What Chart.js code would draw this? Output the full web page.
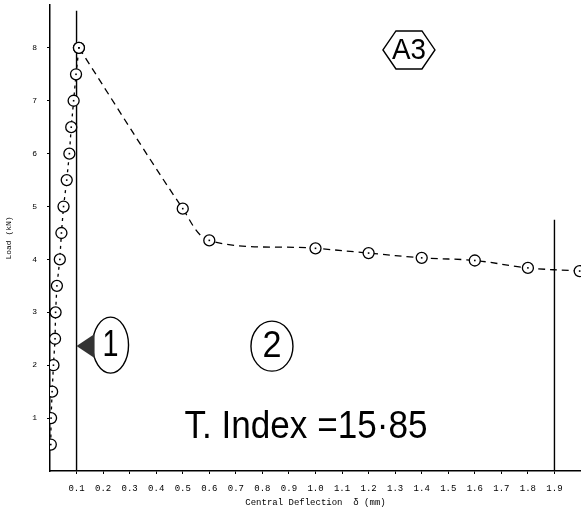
<!DOCTYPE html>
<html>
<head>
<meta charset="utf-8">
<script src="https://cdn.jsdelivr.net/npm/chart.js@4.4.1/dist/chart.umd.min.js"></script>
<style>
  body { margin: 0; background: #fff; }
  #chart { display: block; }
</style>
</head>
<body>
<canvas id="chart" width="581" height="513"></canvas>
<script>
// Loading branch (deflection mm, load kN)
const loadDefl = [0.003, 0.004, 0.008, 0.013, 0.019, 0.021, 0.026, 0.037, 0.043, 0.051, 0.063, 0.073, 0.080, 0.089, 0.098, 0.109];
const loadVals = [0.5, 1.0, 1.5, 2.0, 2.5, 3.0, 3.5, 4.0, 4.5, 5.0, 5.5, 6.0, 6.5, 7.0, 7.5, 8.0];

// Post-peak branch
const postDefl = [0.109, 0.50, 0.60, 1.00, 1.20, 1.40, 1.60, 1.80, 1.995];
const postVals = [8.0, 4.96, 4.36, 4.21, 4.12, 4.03, 3.98, 3.84, 3.78];

// Vertical marker lines
const markerX = [0.1, 1.9];
const markerTop = [8.7, 4.75];

const xTicks = [0.1, 0.2, 0.3, 0.4, 0.5, 0.6, 0.7, 0.8, 0.9, 1.0, 1.1, 1.2, 1.3, 1.4, 1.5, 1.6, 1.7, 1.8, 1.9];
const yTicks = [1, 2, 3, 4, 5, 6, 7, 8];

const toPoints = (xs, ys) => xs.map((x, i) => ({ x: x, y: ys[i] }));

// Annotations placed in data coordinates
const notes = {
    hex: { x: 1.352, y: 7.96, text: 'A3' },
    one: { x: 0.228, y: 2.38, text: '1' },
    two: { x: 0.836, y: 2.36, text: '2' },
    index: { x: 0.964, y: 0.83, text: 'T. Index =15\u00b785' }
};

const markerDot = {
    id: 'markerDot',
    afterDatasetsDraw(chart) {
        const ctx = chart.ctx;
        ctx.save();
        ctx.fillStyle = '#000';
        chart.data.datasets.forEach((ds, i) => {
            if (!ds.centerDot) return;
            chart.getDatasetMeta(i).data.forEach(pt => {
                ctx.fillRect(pt.x - 0.8, pt.y - 0.8, 1.6, 1.6);
            });
        });
        ctx.restore();
    }
};

const sketchNotes = {
    id: 'sketchNotes',
    afterDraw(chart) {
        const ctx = chart.ctx;
        const xs = chart.scales.x;
        const ys = chart.scales.y;
        const px = n => [xs.getPixelForValue(n.x), ys.getPixelForValue(n.y)];
        const face = '"Liberation Sans", Arial, sans-serif';
        ctx.save();
        ctx.strokeStyle = '#000';
        ctx.fillStyle = '#000';
        ctx.lineWidth = 1.4;
        ctx.textAlign = 'center';
        ctx.textBaseline = 'middle';

        // hexagon A3
        let [cx, cy] = px(notes.hex);
        ctx.beginPath();
        ctx.moveTo(cx - 26, cy);
        ctx.lineTo(cx - 13, cy - 19);
        ctx.lineTo(cx + 13, cy - 19);
        ctx.lineTo(cx + 26, cy);
        ctx.lineTo(cx + 13, cy + 19);
        ctx.lineTo(cx - 13, cy + 19);
        ctx.closePath();
        ctx.stroke();
        ctx.font = '30px ' + face;
        ctx.fillText(notes.hex.text, cx, cy + 1, 34);

        // callout 1 with pointer
        [cx, cy] = px(notes.one);
        ctx.beginPath();
        ctx.ellipse(cx, cy, 18, 28, 0, 0, Math.PI * 2);
        ctx.stroke();
        ctx.fillStyle = '#333';
        ctx.beginPath();
        ctx.moveTo(cx - 34, cy + 1);
        ctx.lineTo(cx - 16, cy - 11);
        ctx.lineTo(cx - 16, cy + 13);
        ctx.closePath();
        ctx.fill();
        ctx.fillStyle = '#000';
        ctx.font = '36px ' + face;
        ctx.fillText(notes.one.text, cx, cy + 1, 16);

        // circle 2
        [cx, cy] = px(notes.two);
        ctx.beginPath();
        ctx.ellipse(cx, cy, 21, 25, 0, 0, Math.PI * 2);
        ctx.stroke();
        ctx.fillText(notes.two.text, cx, cy + 1, 19);

        // T. Index label
        [cx, cy] = px(notes.index);
        ctx.font = '38px ' + face;
        ctx.fillText(notes.index.text, cx, cy, 243);
        ctx.restore();
    }
};

const monoFont = { family: '"Liberation Mono", "DejaVu Sans Mono", monospace', size: 9 };

new Chart(document.getElementById('chart'), {
    type: 'scatter',
    data: {
        datasets: [
            {
                data: toPoints(loadDefl, loadVals),
                showLine: true,
                borderColor: '#000',
                borderWidth: 1.3,
                borderDash: [3, 4],
                tension: 0,
                pointRadius: 5.5,
                pointBorderWidth: 1.3,
                pointBorderColor: '#000',
                pointBackgroundColor: '#fff',
                centerDot: true
            },
            {
                data: toPoints(postDefl, postVals),
                showLine: true,
                borderColor: '#000',
                borderWidth: 1.3,
                borderDash: [7, 5],
                tension: 0.35,
                pointRadius: 5.5,
                pointBorderWidth: 1.3,
                pointBorderColor: '#000',
                pointBackgroundColor: '#fff',
                centerDot: true,
                clip: false
            },
            {
                data: [{ x: markerX[0], y: 0 }, { x: markerX[0], y: markerTop[0] }],
                showLine: true,
                borderColor: '#000',
                borderWidth: 1.4,
                pointRadius: 0
            },
            {
                data: [{ x: markerX[1], y: 0 }, { x: markerX[1], y: markerTop[1] }],
                showLine: true,
                borderColor: '#000',
                borderWidth: 1.4,
                pointRadius: 0
            }
        ]
    },
    options: {
        responsive: false,
        animation: false,
        layout: { autoPadding: false, padding: { top: 5, right: 0, left: 0, bottom: 0 } },
        plugins: {
            legend: { display: false },
            tooltip: { enabled: false }
        },
        scales: {
            x: {
                type: 'linear',
                min: 0,
                max: 2.0,
                afterBuildTicks: s => { s.ticks = xTicks.map(v => ({ value: v })); },
                afterFit: s => { s.height = 42; s.paddingLeft = 0; s.paddingRight = 0; },
                ticks: {
                    color: '#000',
                    font: monoFont,
                    padding: 9,
                    maxRotation: 0,
                    autoSkip: false,
                    callback: v => v.toFixed(1)
                },
                grid: { display: true, drawOnChartArea: false, tickLength: 3, color: '#000' },
                border: { color: '#000', width: 1.5 },
                title: {
                    display: true,
                    text: 'Central Deflection  \u03b4 (mm)',
                    color: '#000',
                    font: monoFont,
                    padding: { top: 0, bottom: 5 }
                }
            },
            y: {
                type: 'linear',
                min: 0,
                max: 8.81,
                afterBuildTicks: s => { s.ticks = yTicks.map(v => ({ value: v })); },
                afterFit: s => { s.width = 50; s.paddingTop = 0; s.paddingBottom = 0; },
                ticks: {
                    color: '#000',
                    font: { family: '"Liberation Mono", monospace', size: 8 },
                    padding: 10,
                    autoSkip: false
                },
                grid: { display: true, drawOnChartArea: false, tickLength: 3, color: '#000' },
                border: { color: '#000', width: 1.5 },
                title: {
                    display: true,
                    text: 'Load (kN)',
                    color: '#000',
                    font: { family: '"Liberation Mono", monospace', size: 8 },
                    padding: { top: 4, bottom: 0 }
                }
            }
        }
    },
    plugins: [markerDot, sketchNotes]
});
</script>
</body>
</html>
